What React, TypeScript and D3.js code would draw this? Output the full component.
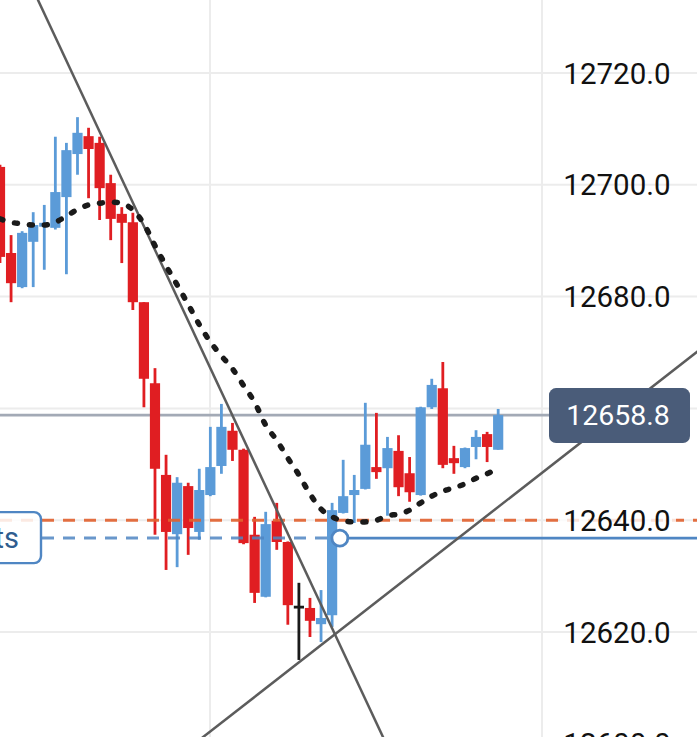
import React from "react";
import * as d3 from "d3";

const W = 697;
const H = 737;

// OHLC per candle (index 0 = leftmost, partially cut)
const opens = [12703.2, 12687.8, 12681.7, 12689.8, 12692.5, 12692.3, 12697.8, 12705.5, 12708.7, 12707.5, 12700.3, 12694.8, 12693.3, 12679.0, 12664.5, 12648.1, 12637.5, 12646.1, 12637.9, 12644.5, 12649.7, 12656.0, 12652.6, 12637.4, 12626.3, 12639.9, 12636.1, 12624.7, 12624.3, 12621.4, 12623.0, 12641.3, 12644.5, 12645.6, 12649.5, 12649.3, 12652.4, 12648.4, 12644.5, 12660.2, 12663.6, 12651.1, 12649.5, 12653.1, 12655.4, 12652.6];
const highs = [12703.6, 12691.0, 12691.7, 12695.1, 12696.4, 12708.6, 12707.5, 12712.1, 12710.2, 12708.6, 12701.8, 12696.0, 12695.0, 12679.0, 12667.2, 12651.7, 12647.7, 12646.7, 12649.2, 12656.7, 12660.8, 12657.4, 12652.8, 12640.6, 12641.5, 12643.1, 12636.2, 12628.8, 12626.1, 12627.5, 12643.1, 12650.8, 12648.1, 12661.0, 12659.2, 12654.9, 12655.2, 12651.3, 12660.3, 12665.3, 12668.3, 12653.3, 12653.0, 12656.1, 12655.8, 12659.9];
const lows = [12686.0, 12679.0, 12681.5, 12681.7, 12684.8, 12692.0, 12684.0, 12701.8, 12697.6, 12693.7, 12690.1, 12686.0, 12677.6, 12660.2, 12637.4, 12631.1, 12631.6, 12633.8, 12636.5, 12644.3, 12648.3, 12650.6, 12635.7, 12625.2, 12626.2, 12634.7, 12621.3, 12615.0, 12619.1, 12618.2, 12620.9, 12641.2, 12639.5, 12645.5, 12647.4, 12640.8, 12644.3, 12643.3, 12644.4, 12659.9, 12649.3, 12648.3, 12649.3, 12650.9, 12650.4, 12652.6];
const closes = [12687.1, 12682.4, 12691.4, 12692.8, 12693.2, 12698.7, 12706.2, 12709.3, 12706.4, 12699.4, 12693.9, 12693.2, 12679.0, 12665.3, 12649.2, 12637.9, 12646.7, 12638.6, 12645.4, 12649.5, 12656.7, 12652.6, 12635.9, 12627.0, 12639.3, 12636.1, 12624.8, 12624.7, 12622.0, 12622.5, 12641.8, 12644.3, 12645.4, 12653.5, 12648.6, 12652.9, 12645.9, 12645.0, 12660.2, 12664.2, 12649.9, 12650.2, 12652.9, 12654.9, 12653.1, 12658.8];

// dotted moving average
const maValues = [12693.9, 12693.3, 12693.0, 12692.8, 12692.8, 12693.3, 12694.4, 12695.6, 12696.4, 12696.7, 12696.9, 12696.7, 12695.5, 12693.0, 12689.1, 12685.5, 12682.1, 12678.6, 12675.0, 12671.9, 12669.4, 12667.1, 12664.1, 12661.1, 12657.0, 12654.3, 12651.1, 12648.1, 12644.7, 12642.0, 12640.6, 12639.9, 12639.7, 12639.7, 12640.0, 12640.8, 12641.1, 12641.8, 12643.1, 12644.3, 12645.2, 12645.8, 12646.5, 12647.5, 12648.3, 12649.3];

// trend lines: [index, price] anchors
const trendDown = [[3.43, 12733.06], [34.6, 12601.2]];
const trendUp = [[18.34, 12601.2], [62.96, 12670.1]];

const axisTicks = [12600, 12620, 12640, 12660, 12680, 12700, 12720];
const tickLabels = ["12600.0", "12620.0", "12640.0", "12660.0", "12680.0", "12700.0", "12720.0"];
const lastPrice = 12658.8;
const lastPriceLabel = "12658.8";
const orangeLevel = 12640.0;
const blueLevel = 12636.8;
const blueMarkerIndex = 30.7;
const vGridIndex = [18.97, 48.96];
const leftTagText = "ts";

export default function App() {
  const x = d3.scaleLinear().domain([0, 62.96]).range([0, W]);
  const y = d3.scaleLinear().domain([12720, 12620]).range([73, 632]);
  const bodyW = 10.2;
  const red = "#e01e22";
  const blue = "#5b9bd8";
  const font = "Roboto, 'Noto Sans', sans-serif";

  const maLine = d3
    .line<number>()
    .x((_, i) => x(i))
    .y((d) => y(d))
    .curve(d3.curveMonotoneX);

  const extend = (pts: number[][]) => {
    const [[i1, p1], [i2, p2]] = pts;
    const slope = (p2 - p1) / (i2 - i1);
    const a = -5, b = 70;
    return { x1: x(a), y1: y(p1 + slope * (a - i1)), x2: x(b), y2: y(p1 + slope * (b - i1)) };
  };
  const td = extend(trendDown);
  const tu = extend(trendUp);

  const axisX = 617;
  const lpY = y(lastPrice);
  const oY = y(orangeLevel);
  const bY = y(blueLevel);
  const cX = x(blueMarkerIndex);

  return (
    <svg width={W} height={H} style={{ position: "fixed", left: 0, top: 0, background: "#fff" }} fontFamily={font}>
      <rect x={0} y={0} width={W} height={H} fill="#fff" />
      {/* grid */}
      {axisTicks.map((t) => (
        <line key={"h" + t} x1={0} x2={W} y1={y(t)} y2={y(t)} stroke="#ececec" strokeWidth={2} />
      ))}
      {vGridIndex.map((v) => (
        <line key={"v" + v} x1={x(v)} x2={x(v)} y1={0} y2={H} stroke="#ececec" strokeWidth={2} />
      ))}
      {/* last price line */}
      <line x1={0} x2={552} y1={lpY} y2={lpY} stroke="#a3aab6" strokeWidth={2.6} />
      {/* candles */}
      {opens.map((o, i) => {
        const c = closes[i];
        const col = c > o ? blue : c < o ? red : "#1a1a1a";
        const top = y(Math.max(o, c));
        const bot = y(Math.min(o, c));
        return (
          <g key={i}>
            <line x1={x(i)} x2={x(i)} y1={y(highs[i])} y2={y(lows[i])} stroke={col} strokeWidth={2.8} />
            <rect x={x(i) - bodyW / 2} y={top} width={bodyW} height={Math.max(bot - top, 2.8)} fill={col} />
          </g>
        );
      })}
      {/* order lines */}
      <line x1={0} x2={W} y1={oY} y2={oY} stroke="#e2612f" strokeWidth={3} strokeDasharray="12 9" opacity={0.9} />
      <line x1={42} x2={cX - 8} y1={bY} y2={bY} stroke="#4f86c3" strokeWidth={3} strokeDasharray="12 9" opacity={0.85} />
      <line x1={cX} x2={W} y1={bY} y2={bY} stroke="#4f86c3" strokeWidth={2.6} />
      {/* trend lines */}
      <line {...td} stroke="#5c5c5c" strokeWidth={2.5} />
      <line {...tu} stroke="#5c5c5c" strokeWidth={2.5} />
      {/* moving average dotted */}
      <path d={maLine(maValues) || ""} fill="none" stroke="#1a1a1a" strokeWidth={5.5} strokeDasharray="3 12" strokeLinecap="round" />
      {/* marker circle */}
      <circle cx={cX} cy={bY} r={8} fill="#fff" stroke="#4f86c3" strokeWidth={2.8} />
      {/* left tag */}
      <rect x={-20} y={bY - 26} width={61} height={51} rx={7} fill="#fff" fillOpacity={0.85} stroke="#4f86c3" strokeWidth={2.4} />
      <text x={19} y={bY + 10} textAnchor="end" fontSize={29} fill="#2f5d8f">{leftTagText}</text>
      {/* axis labels */}
      {axisTicks.map((t, k) =>
        t === 12660 ? null : (
          <g key={"l" + t}>
            {t === orangeLevel && <rect x={560} y={y(t) - 14} width={116} height={28} fill="#fff" fillOpacity={0.8} />}
            <text x={axisX} y={y(t)} dy="0.36em" textAnchor="middle" fontSize={29.5} fill="#111">
              {tickLabels[k]}
            </text>
          </g>
        )
      )}
      {/* last price box */}
      <rect x={549} y={lpY - 27} width={141} height={55} rx={7} fill="#4a5c79" />
      <text x={618} y={lpY} dy="0.36em" textAnchor="middle" fontSize={28.5} fill="#fff">
        {lastPriceLabel}
      </text>
    </svg>
  );
}
